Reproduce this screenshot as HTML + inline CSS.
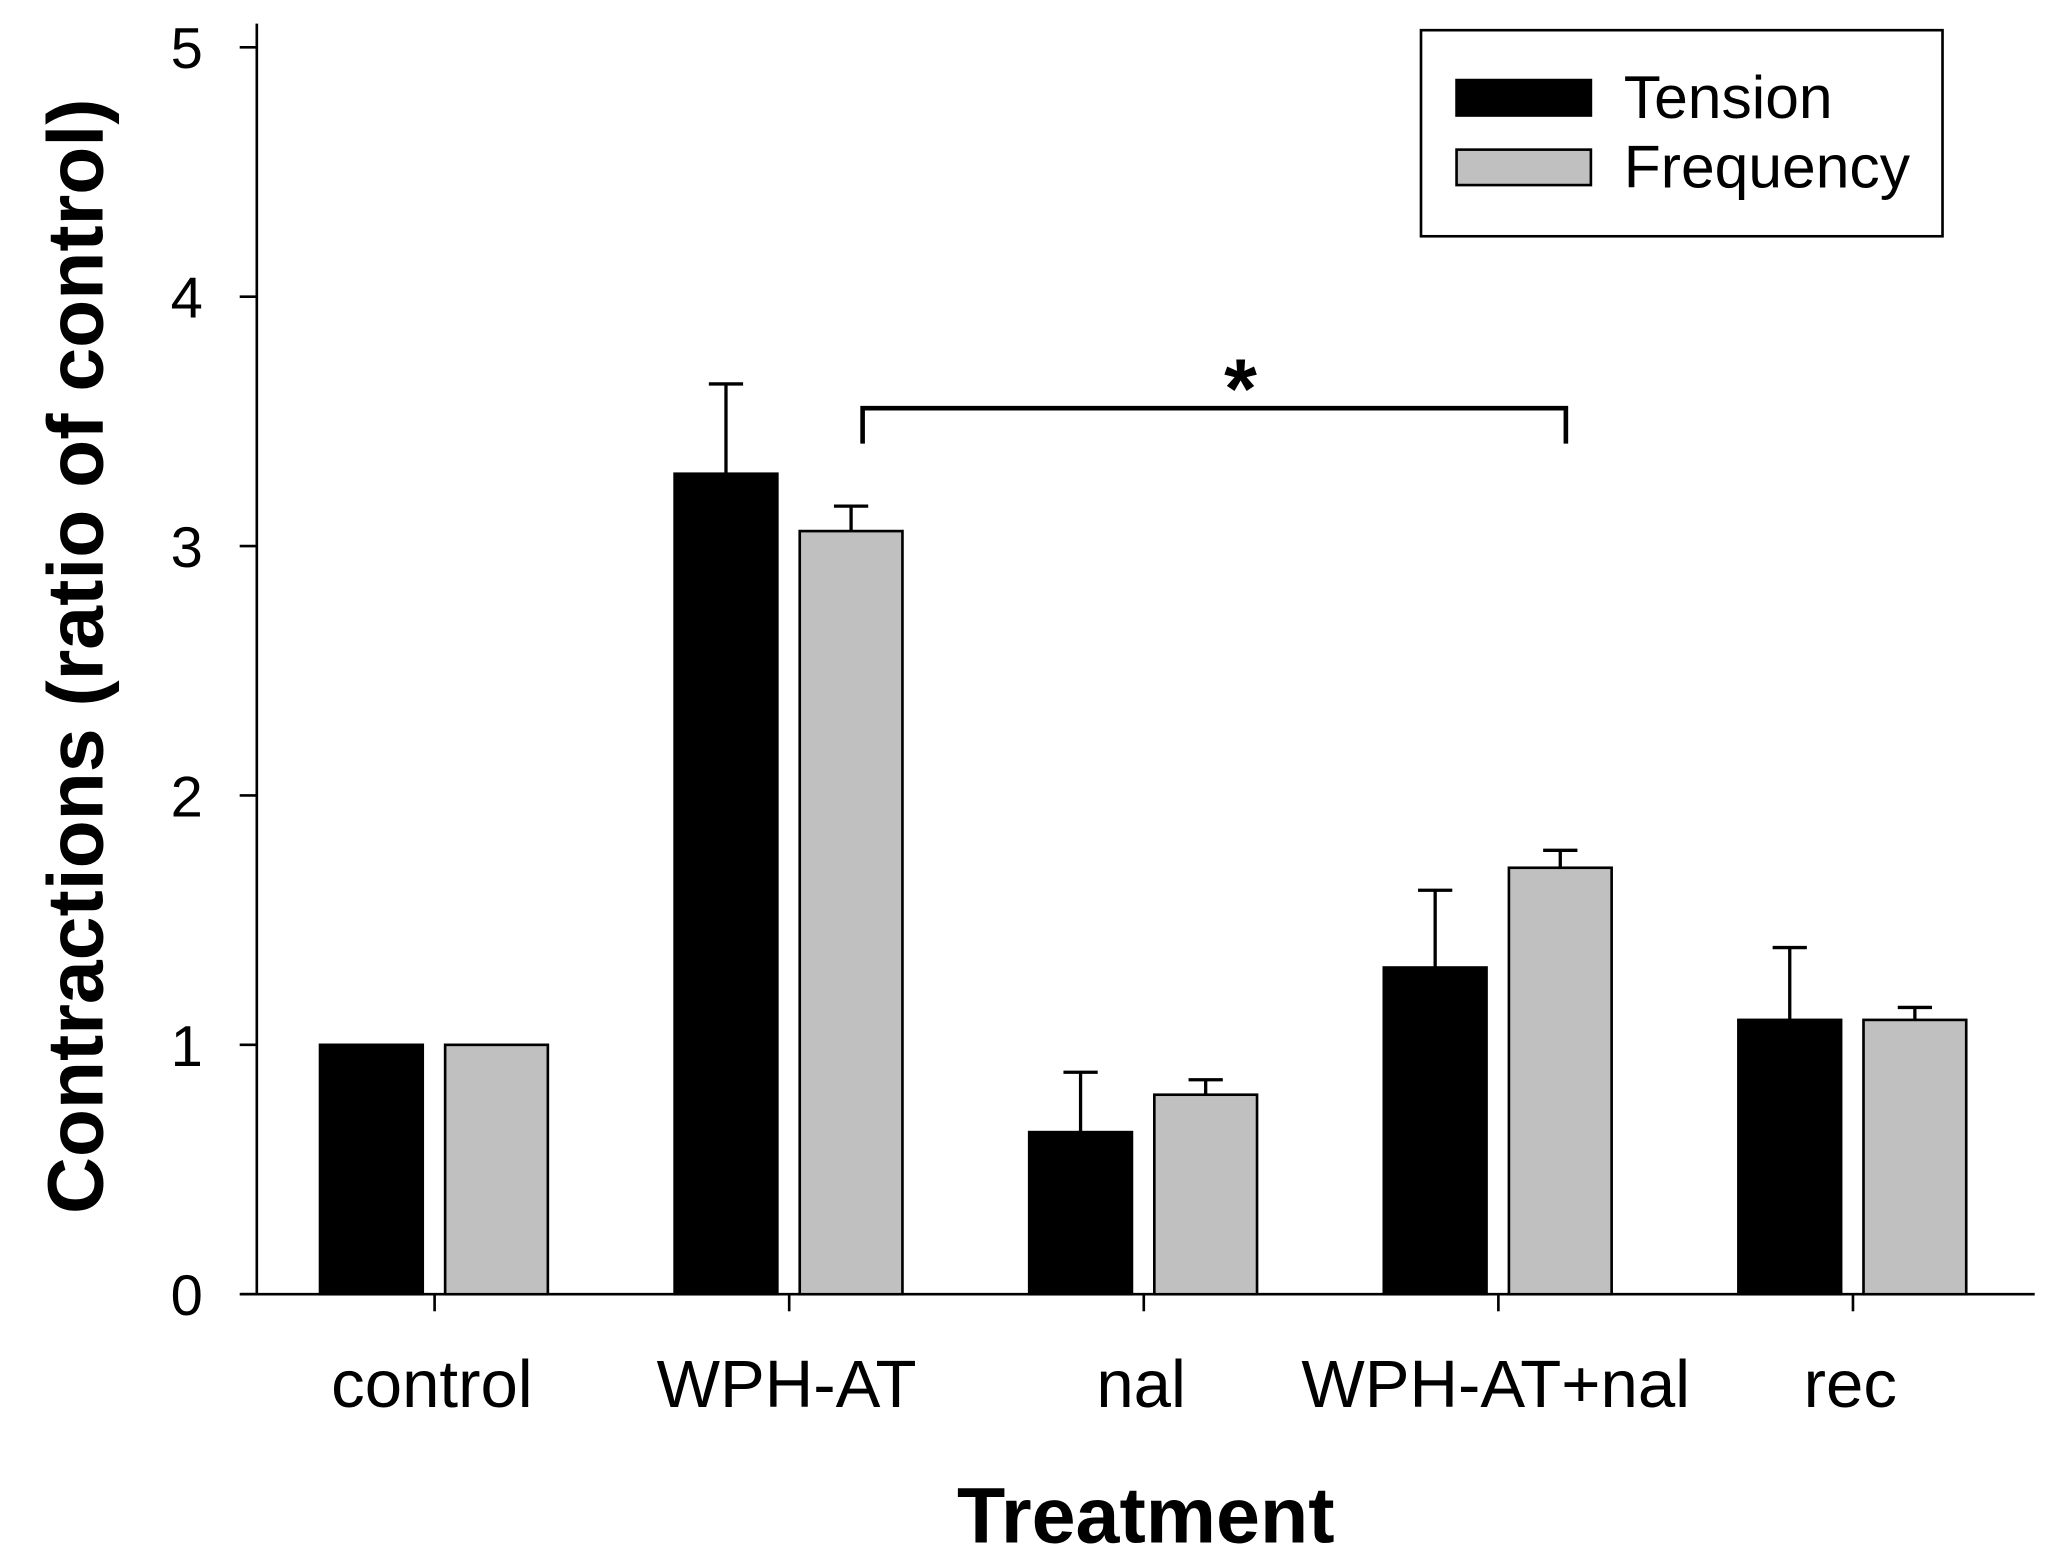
<!DOCTYPE html>
<html><head><style>html,body{margin:0;padding:0;background:#fff;overflow:hidden}svg{display:block}text{font-family:"Liberation Sans",sans-serif}</style></head>
<body>
<svg width="2065" height="1562" viewBox="0 0 1568 1190" preserveAspectRatio="none" xmlns="http://www.w3.org/2000/svg">
<g id="plot"></g>
</svg>
<script>
const categories = ["control","WPH-AT","nal","WPH-AT+nal","rec"];
const tension = [1, 3.29, 0.65, 1.31, 1.10];
const tensionErr = [0, 0.36, 0.24, 0.31, 0.29];
const frequency = [1, 3.06, 0.80, 1.71, 1.10];
const frequencyErr = [0, 0.10, 0.06, 0.07, 0.05];
const yTicks = [0,1,2,3,4,5];

const NS="http://www.w3.org/2000/svg";
const g=document.getElementById('plot');
const y0=986, pxPerUnit=190;
const yS=v=>y0-v*pxPerUnit;
const xS=i=>330+i*269.25;
function mk(tag,attrs,parent){const e=document.createElementNS(NS,tag);for(const k in attrs)e.setAttribute(k,attrs[k]);(parent||g).appendChild(e);return e;}

let e=mk('line',{x1:195,y1:18,x2:195,y2:986,stroke:'#000','stroke-width':2});


e=mk('line',{x1:183,y1:986,x2:1545,y2:986,stroke:'#000','stroke-width':2});


yTicks.forEach(t=>{
  const l=mk('line',{x1:182,y1:yS(t),x2:195,y2:yS(t),stroke:'#000','stroke-width':2});
  
  
  const tx=mk('text',{x:154,y:yS(t)+16,'text-anchor':'end','font-size':44});
  tx.textContent=t;
  
  
});
categories.forEach((c,i)=>{
  const cx=xS(i);
  const l=mk('line',{x1:cx,y1:986,x2:cx,y2:999,stroke:'#000','stroke-width':2});
  
  
  const tx=mk('text',{x:cx-2,y:1072,'text-anchor':'middle','font-size':51});
  tx.textContent=c;
  
  
  [[tension,tensionErr,-48,'#000','bar-tension'],[frequency,frequencyErr,47,'#c0c0c0','bar-frequency']].forEach(([vals,errs,off,fill,name])=>{
    const bx=cx+off;
    const r=mk('rect',{x:bx-39,y:yS(vals[i]),width:78,height:y0-yS(vals[i]),fill:fill,stroke:'#000','stroke-width':2});
    
    
    if(errs[i]>0){
      const top=yS(vals[i]+errs[i]);
      const eb=mk('path',{d:`M${bx},${yS(vals[i])}V${top}M${bx-13},${top}H${bx+13}`,stroke:'#000','stroke-width':2.5,fill:'none'});
      
      
    }
  });
});
e=mk('path',{d:'M655,338V311H1189V338',stroke:'#000','stroke-width':3.5,fill:'none'});


e=mk('text',{x:942,y:318,'text-anchor':'middle','font-size':64,'font-weight':'bold'});
e.textContent='*';


e=mk('rect',{x:1079,y:23,width:396,height:157,fill:'#fff',stroke:'#000','stroke-width':2});


e=mk('rect',{x:1106,y:61,width:102,height:27,fill:'#000',stroke:'#000','stroke-width':2});


e=mk('rect',{x:1106,y:114,width:102,height:27,fill:'#c0c0c0',stroke:'#000','stroke-width':2});


e=mk('text',{x:1233,y:90,'font-size':46});
e.textContent='Tension';


e=mk('text',{x:1233,y:143,'font-size':46});
e.textContent='Frequency';


e=mk('text',{x:870,y:1175,'text-anchor':'middle','font-size':60,'font-weight':'bold'});
e.textContent='Treatment';


e=mk('text',{x:0,y:0,'text-anchor':'middle','font-size':60,'font-weight':'bold',transform:'translate(78,500) rotate(-90)'});
e.textContent='Contractions (ratio of control)';


</script>
</body></html>
